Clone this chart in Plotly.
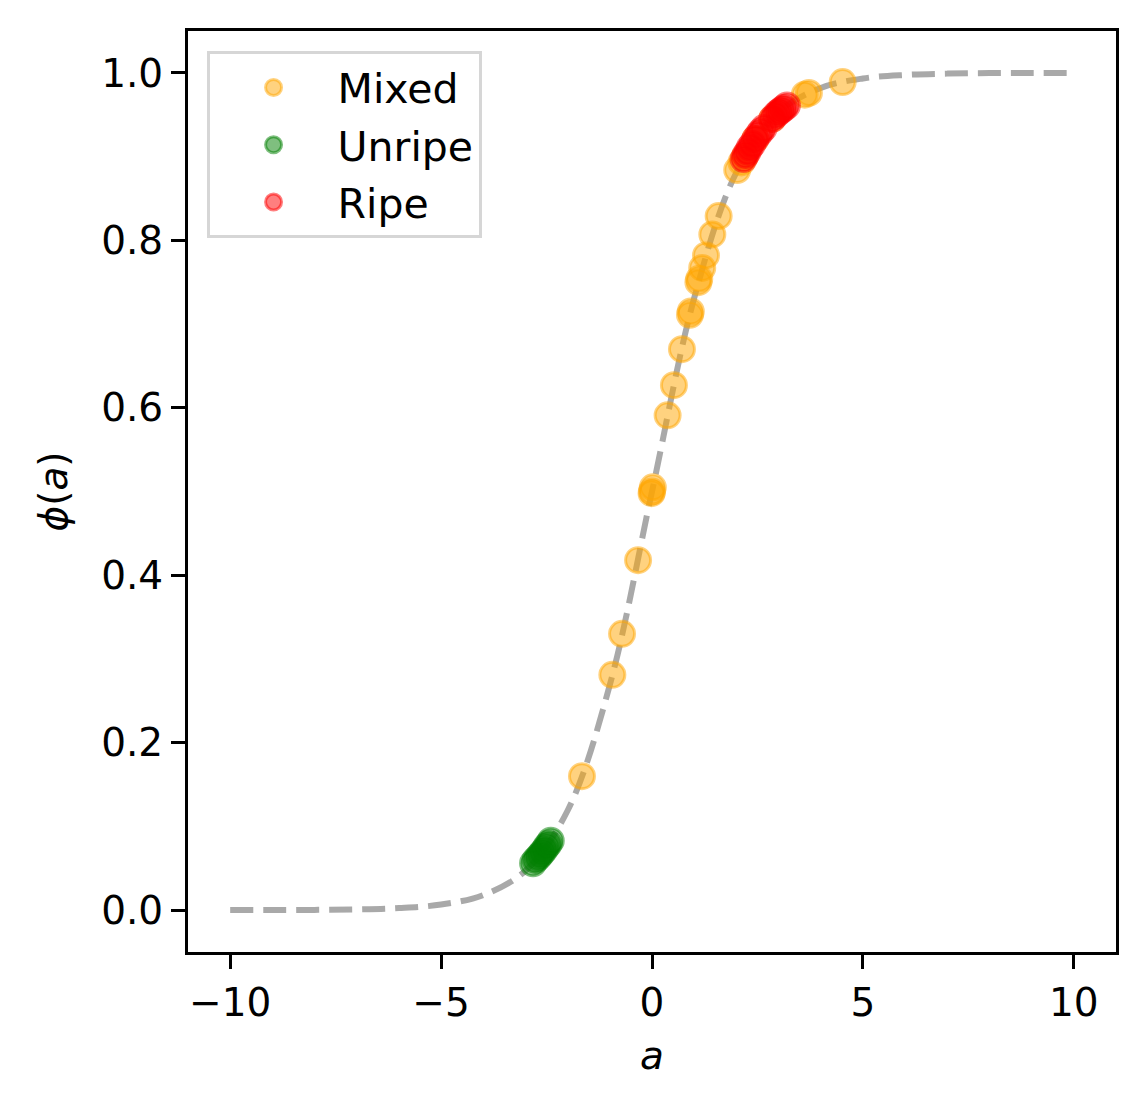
import plotly.graph_objects as go

# dashed reference curve at integer a
curve_a = list(range(-10, 11))
curve_phi = [0.00005, 0.0001, 0.0003, 0.0009, 0.0025, 0.0067, 0.018, 0.047, 0.119, 0.269, 0.5,
             0.731, 0.881, 0.953, 0.982, 0.9933, 0.9975, 0.9991, 0.9997, 0.9999, 0.99995]

# point groups
mixed_a = [4.52, 3.72, 3.62, 2.02, 2.12, 2.20, 2.45, 2.85, 1.58, 1.43, 1.28, 1.19, 1.12, 1.10,
           0.92, 0.90, 0.71, 0.52, 0.37, 0.02, 0.00, -0.01, -0.33, -0.71, -0.94, -1.66]
mixed_phi = [0.989, 0.976, 0.974, 0.884, 0.893, 0.900, 0.921, 0.945, 0.829, 0.807, 0.782, 0.767, 0.754, 0.750,
             0.715, 0.711, 0.670, 0.627, 0.591, 0.505, 0.500, 0.498, 0.418, 0.330, 0.281, 0.160]

unripe_a = [-2.82, -2.76, -2.70, -2.65, -2.60, -2.55, -2.50, -2.45, -2.40]
unripe_phi = [0.056, 0.060, 0.063, 0.066, 0.069, 0.072, 0.076, 0.079, 0.083]

ripe_a = [2.17, 2.22, 2.27, 2.32, 2.38, 2.45, 2.52, 2.58, 2.65,
          2.85, 2.92, 2.98, 3.03, 3.08, 3.13, 3.20]
ripe_phi = [0.897, 0.902, 0.906, 0.911, 0.915, 0.921, 0.926, 0.930, 0.934,
            0.945, 0.949, 0.952, 0.954, 0.956, 0.958, 0.961]

FONT = "DejaVu Sans"
FS = 39

fig = go.Figure()

fig.add_trace(go.Scatter(x=curve_a, y=curve_phi, mode="lines", showlegend=False,
                         line=dict(color="rgba(128,128,128,0.68)", width=6, dash="23px,10px",
                                   shape="spline", smoothing=1.0),
                         hoverinfo="skip"))

def points(a, phi, name, rgb):
    return go.Scatter(x=a, y=phi, mode="markers", name=name, legendgroup=name,
                      marker=dict(size=25, color="rgba(%s,0.5)" % rgb,
                                  line=dict(color="rgba(%s,0.5)" % rgb, width=3)))

fig.add_trace(points(mixed_a, mixed_phi, "Mixed", "255,165,0"))
fig.add_trace(points(unripe_a, unripe_phi, "Unripe", "0,128,0"))
fig.add_trace(points(ripe_a, ripe_phi, "Ripe", "255,0,0"))

axis_common = dict(showline=True, linecolor="black", linewidth=3, mirror=True,
                   ticks="outside", ticklen=14, tickwidth=3, tickcolor="black",
                   showgrid=False, zeroline=False,
                   tickfont=dict(family=FONT, size=FS, color="black"))

fig.update_layout(
    width=1146, height=1109,
    margin=dict(l=180, r=38, t=23, b=165),
    plot_bgcolor="white", paper_bgcolor="white",
    font=dict(family=FONT, size=FS, color="black"),
    xaxis=dict(range=[-11, 11], tickvals=[-10, -5, 0, 5, 10],
               title=dict(text="<i>a</i>", font=dict(size=FS), standoff=18), **axis_common),
    yaxis=dict(range=[-0.05, 1.05], tickvals=[0, 0.2, 0.4, 0.6, 0.8, 1.0], tickformat=".1f",
               title=dict(text="<i>ϕ</i>(<i>a</i>)", font=dict(size=FS), standoff=22), **axis_common),
    legend=dict(x=0.02, y=0.978, xanchor="left", yanchor="top",
                bgcolor="white", bordercolor="#d6d6d6", borderwidth=3,
                font=dict(family=FONT, size=41), itemsizing="trace", itemwidth=118,
                tracegroupgap=1),
)

fig.write_html("out.html")
